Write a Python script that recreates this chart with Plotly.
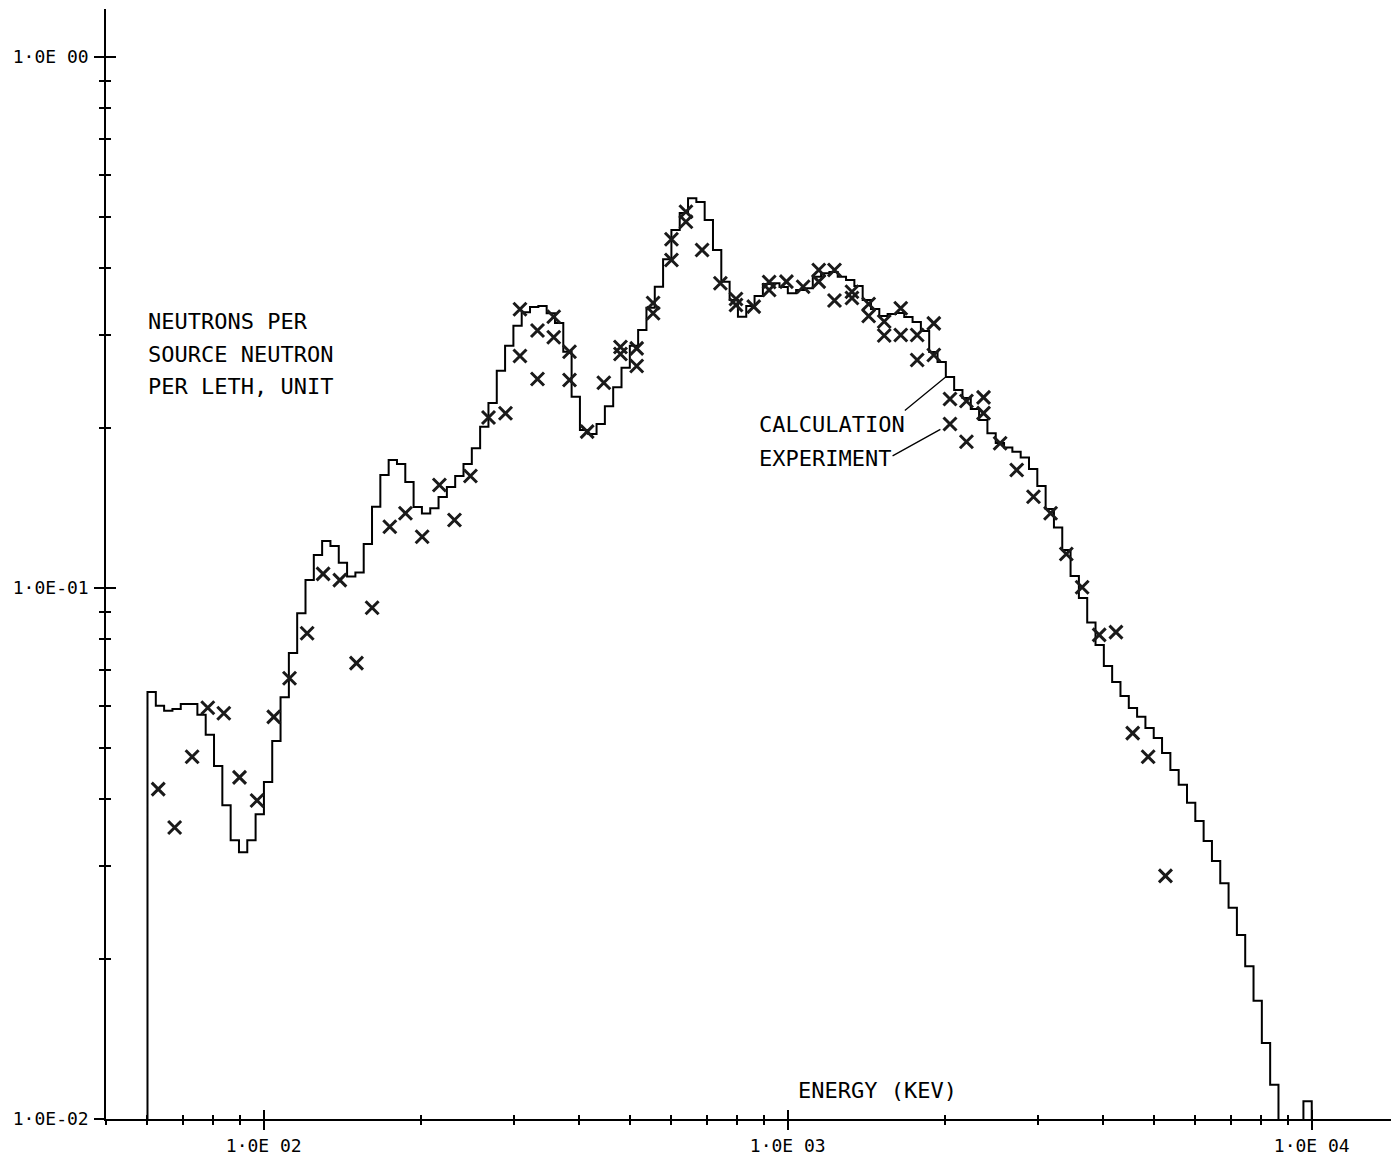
import numpy as np
import plotly.graph_objects as go

# ---------------------------------------------------------------------------
# Neutron spectrum: multigroup calculation vs. measured points
# ---------------------------------------------------------------------------

# Group structure: 140 equal-lethargy groups from 60 keV to 10 MeV
E_LOW_KEV = 60.0
E_HIGH_KEV = 1.0e4
N_GROUPS = 140

# Calculated flux per lethargy unit, one value per group (0 = no flux)
calculation = [
    0.0637, 0.0600, 0.0587, 0.0592, 0.0605, 0.0605, 0.0577, 0.0529, 0.0462, 0.0390,
    0.0335, 0.0318, 0.0335, 0.0375, 0.0431, 0.0515, 0.0623, 0.0754, 0.0896, 0.1035,
    0.1154, 0.1226, 0.1200, 0.1116, 0.1051, 0.1069, 0.1210, 0.1423, 0.1632, 0.1742,
    0.1712, 0.1583, 0.1421, 0.1382, 0.1413, 0.1484, 0.1550, 0.1625, 0.1712, 0.1833,
    0.2013, 0.2231, 0.2566, 0.2860, 0.3119, 0.3305, 0.3382, 0.3397, 0.3291, 0.3156,
    0.2786, 0.2292, 0.1984, 0.1950, 0.2037, 0.2199, 0.2388, 0.2600, 0.2860, 0.3061,
    0.3372, 0.3694, 0.4159, 0.4723, 0.5085, 0.5420, 0.5334, 0.4933, 0.4330, 0.3774,
    0.3486, 0.3243, 0.3397, 0.3547, 0.3737, 0.3748, 0.3689, 0.3589, 0.3641, 0.3668,
    0.3857, 0.3915, 0.3937, 0.3857, 0.3803, 0.3705, 0.3486, 0.3353, 0.3253, 0.3281,
    0.3295, 0.3239, 0.3169, 0.3048, 0.2783, 0.2665, 0.2497, 0.2360, 0.2279, 0.2173,
    0.2072, 0.1957, 0.1876, 0.1839, 0.1806, 0.1761, 0.1675, 0.1556, 0.1409, 0.1300,
    0.1179, 0.1053, 0.0958, 0.0861, 0.0781, 0.0713, 0.0665, 0.0626, 0.0594, 0.0572,
    0.0545, 0.0522, 0.0489, 0.0454, 0.0426, 0.0394, 0.0364, 0.0334, 0.0306, 0.0278,
    0.0250, 0.0222, 0.0194, 0.0167, 0.0139, 0.0116, 0.0, 0.0, 0.0, 0.0108,
]

# Measured points (energy in keV, flux per lethargy unit)
experiment_energy_kev = [
    62.9, 67.6, 73.0, 78.2, 83.9, 89.9, 97.1, 104.5, 112.0, 121.0,
    129.8, 139.7, 150.3, 161.0, 174.0, 186.4, 200.6, 216.4, 231.2, 248.0,
    268.5, 289.3, 308.3, 308.3, 333.0, 333.0, 357.6, 357.6, 383.3, 383.3,
    414.2, 445.6, 479.5, 479.5, 514.9, 514.9, 553.4, 553.4, 599.9, 599.9,
    639.3, 639.3, 686.3, 743.8, 796.6, 796.6, 861.2, 921.5, 921.5, 994.3,
    1070.0, 1146.0, 1146.0, 1228.0, 1228.0, 1326.0, 1326.0, 1427.0, 1427.0, 1528.0,
    1528.0, 1643.0, 1643.0, 1766.0, 1766.0, 1900.0, 1900.0, 2040.0, 2040.0, 2193.0,
    2193.0, 2364.0, 2364.0, 2543.0, 2735.0, 2944.0, 3174.0, 3401.0, 3646.0, 3930.0,
    4230.0, 4553.0, 4873.0, 5258.0,
]
experiment_flux = [
    0.0418, 0.0354, 0.0481, 0.0595, 0.0581, 0.0440, 0.0398, 0.0572, 0.0676, 0.0822,
    0.1063, 0.1035, 0.0722, 0.0918, 0.1304, 0.1383, 0.1249, 0.1563, 0.1343, 0.1625,
    0.2095, 0.2133, 0.3349, 0.2735, 0.3054, 0.2475, 0.3243, 0.2966, 0.2786, 0.2464,
    0.1970, 0.2435, 0.2843, 0.2759, 0.2827, 0.2619, 0.3441, 0.3291, 0.4537, 0.4147,
    0.5113, 0.4895, 0.4330, 0.3748, 0.3502, 0.3412, 0.3387, 0.3770, 0.3641, 0.3775,
    0.3693, 0.3971, 0.3775, 0.3971, 0.3479, 0.3614, 0.3517, 0.3426, 0.3252, 0.3176,
    0.2989, 0.3363, 0.2996, 0.2996, 0.2688, 0.3151, 0.2746, 0.2270, 0.2036, 0.2250,
    0.1886, 0.2285, 0.2135, 0.1873, 0.1668, 0.1485, 0.1383, 0.1159, 0.1003, 0.0816,
    0.0826, 0.0533, 0.0481, 0.0287,
]

# Axis decorations
x_major_ticks = [1.0e2, 1.0e3, 1.0e4]
x_major_labels = ["1\u00b70E 02", "1\u00b70E 03", "1\u00b70E 04"]
x_minor_ticks = [50, 60, 70, 80, 90,
                 200, 300, 400, 500, 600, 700, 800, 900,
                 2000, 3000, 4000, 5000, 6000, 7000, 8000, 9000]
y_major_ticks = [1.0e-2, 1.0e-1, 1.0]
y_major_labels = ["1\u00b70E-02", "1\u00b70E-01", "1\u00b70E 00"]
y_minor_ticks = [0.02, 0.03, 0.04, 0.05, 0.06, 0.07, 0.08, 0.09,
                 0.2, 0.3, 0.4, 0.5, 0.6, 0.7, 0.8, 0.9]

# ---------------------------------------------------------------------------
FONT = "DejaVu Sans Mono"
INK = "black"
FLOOR = 1.0e-3          # off-scale level used for empty groups

edges = np.geomspace(E_LOW_KEV, E_HIGH_KEV, N_GROUPS + 1)
calc = np.asarray(calculation, dtype=float)
calc_plot = np.where(calc > 0, calc, FLOOR)

# histogram outline: rise at the first edge, steps, fall at the last edge
step_x = np.concatenate([[edges[0]], edges[:-1], [edges[-1]], [edges[-1]]])
step_y = np.concatenate([[FLOOR], calc_plot, [calc_plot[-1]], [FLOOR]])

fig = go.Figure()
fig.add_trace(go.Scatter(
    x=step_x, y=step_y, mode="lines", line_shape="hv",
    line=dict(color=INK, width=2), hoverinfo="skip", name="CALCULATION",
))
fig.add_trace(go.Scatter(
    x=experiment_energy_kev, y=experiment_flux, mode="markers",
    marker=dict(symbol="x-thin", size=13, line=dict(color="#1a1a1a", width=3)),
    name="EXPERIMENT",
))
# companion axes carry the inward half of the crossing tick marks
fig.add_trace(go.Scatter(x=[], y=[], xaxis="x2", yaxis="y2", showlegend=False))

W, H = 1391, 1161
ML, MR, MT, MB = 106, 0, 9, 42
PX_PER_DECADE_X = 524.0
PX_PER_DECADE_Y = 531.0
x_range = [np.log10(50.0), np.log10(50.0) + (W - ML - MR) / PX_PER_DECADE_X]
y_range = [-2.0, -2.0 + (H - MT - MB) / PX_PER_DECADE_Y]

tick_font = dict(family=FONT, size=18, color=INK)

def x_axis(side_ticks, labels):
    return dict(
        type="log", range=x_range, showgrid=False, zeroline=False,
        tickmode="array", tickvals=x_major_ticks,
        ticktext=x_major_labels if labels else None,
        showticklabels=labels, ticks=side_ticks, ticklen=9, tickwidth=1.5,
        tickcolor=INK, tickfont=tick_font, ticklabelstandoff=1,
        showline=labels, linecolor=INK, linewidth=1.5,
        minor=dict(tickmode="array", tickvals=x_minor_ticks, ticks=side_ticks,
                   ticklen=4, tickwidth=1.5, tickcolor=INK, showgrid=False),
    )

def y_axis(side_ticks, labels):
    return dict(
        type="log", range=y_range, showgrid=False, zeroline=False,
        tickmode="array", tickvals=y_major_ticks,
        ticktext=y_major_labels if labels else None,
        showticklabels=labels, ticks=side_ticks, ticklen=10, tickwidth=1.5,
        tickcolor=INK, tickfont=tick_font, ticklabelstandoff=2,
        showline=labels, linecolor=INK, linewidth=1.5,
        minor=dict(tickmode="array", tickvals=y_minor_ticks, ticks=side_ticks,
                   ticklen=5, tickwidth=1.5, tickcolor=INK, showgrid=False),
    )

xa2 = x_axis("inside", False)
xa2.update(overlaying="x", anchor="y", side="bottom")
ya2 = y_axis("inside", False)
ya2.update(overlaying="y", anchor="x", side="left")

text_font = dict(family=FONT, size=22, color=INK)

def label(text, px, py):
    """Text placed by its left-middle point, in window pixels."""
    return dict(
        text=text, showarrow=False, font=text_font,
        xref="paper", yref="paper", xanchor="left", yanchor="middle",
        x=(px - ML) / (W - ML - MR), y=(H - MB - py) / (H - MT - MB),
    )

# leader lines from the key labels to the curve and to a measured point
k_lead = 96
i_lead = 68
leaders = [
    dict(x=np.log10(edges[k_lead]), y=np.log10(calc[k_lead]),
         ax=-42.5, ay=34.7, standoff=1),
    dict(x=np.log10(experiment_energy_kev[i_lead]),
         y=np.log10(experiment_flux[i_lead]),
         ax=-58.9, ay=32.7, standoff=11),
]
leader_annotations = [
    dict(text="", showarrow=True, arrowhead=0, arrowwidth=1.3, arrowcolor=INK,
         xref="x", yref="y", axref="pixel", ayref="pixel", **ld)
    for ld in leaders
]

fig.update_layout(
    width=W, height=H,
    margin=dict(l=ML, r=MR, t=MT, b=MB, pad=0),
    paper_bgcolor="white", plot_bgcolor="white",
    showlegend=False,
    xaxis=x_axis("outside", True), yaxis=y_axis("outside", True),
    xaxis2=xa2, yaxis2=ya2,
    annotations=[
        label("NEUTRONS PER", 146, 321),
        label("SOURCE NEUTRON", 146, 354),
        label("PER LETH, UNIT", 146, 387),
        label("CALCULATION", 757, 425),
        label("EXPERIMENT", 757, 459),
        label("ENERGY (KEV)", 796, 1090),
    ] + leader_annotations,
)

fig.write_html("out.html")
